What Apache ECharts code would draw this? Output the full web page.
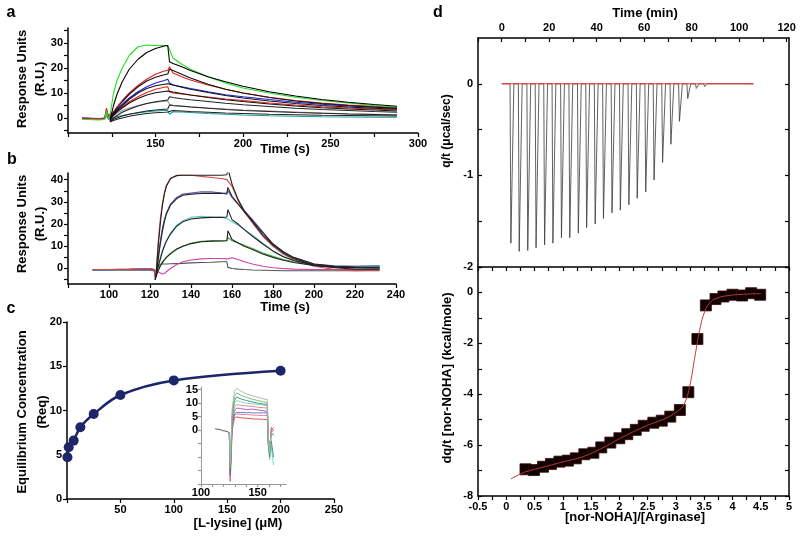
<!DOCTYPE html>
<html>
<head>
<meta charset="utf-8">
<script src="https://cdn.jsdelivr.net/npm/echarts@6/dist/echarts.min.js"></script>
<style>
  html, body { margin: 0; padding: 0; background: #fff; }
  #main { width: 800px; height: 541px; }
</style>
</head>
<body>
<div id="main"></div>
<script>
// ---- panel a: SPR sensorgrams (time in s, response in R.U.) ----
const aTime = [108, 118, 121, 122, 123, 124, 126, 128, 131, 135, 140, 145, 150, 155, 157, 158, 160, 165, 170, 180, 190, 200, 215, 230, 245, 260, 275, 288];
const aGreen = [-0.5, -0.8, -0.5, 3, 0, 1, 10, 15, 20, 25, 28.5, 29.2, 29, 29, 29, 29.5, 24, 21.5, 19.5, 16.5, 14, 12, 10, 8.3, 7, 6, 5, 4.3];
const aFitGreen = [null, null, null, null, null, -1, 5, 9.5, 14.5, 19.5, 23.5, 26.2, 27.8, 28.8, 29, 22.5, 21.8, 20.5, 19, 16.5, 14.5, 12.7, 10.5, 8.8, 7.4, 6.3, 5.4, 4.7];
const aRed1 = [0, -0.3, 0, 4, 1, 0.5, 2.5, 4.5, 7, 10, 13, 15.5, 17.5, 18.8, 19, 20.5, 18, 16.5, 15.2, 13.2, 11.5, 10, 8.3, 7, 6, 5.2, 4.7, 4.2];
const aFitRed1 = [null, null, null, null, null, -0.5, 2, 4, 6.5, 9.5, 12.5, 14.8, 16.3, 17.3, 17.6, 19.5, 19, 17.5, 16, 13.5, 11.5, 10, 8.2, 6.8, 5.8, 5, 4.4, 3.9];
const aBlue = [0, -0.2, 0, 3.5, 0.5, 0.5, 2, 3.5, 5.5, 8, 10.5, 12.5, 14, 15, 15.5, 14, 13.2, 12.5, 11.8, 10.5, 9.3, 8.5, 7.4, 6.3, 5.5, 4.8, 4.3, 3.8];
const aFitBlue = [null, null, null, null, null, -0.5, 1.5, 3, 5, 7.5, 10, 11.8, 12.9, 13.5, 13.7, 13.5, 13.2, 12.3, 11.5, 10.2, 9, 8, 6.8, 5.8, 5, 4.4, 3.9, 3.5];
const aRed2 = [0, -0.4, -0.2, 3, 0, 0, 1.5, 3, 4.5, 6.5, 8.5, 10.2, 11.5, 12.3, 12.5, 10.5, 10, 9.6, 9.2, 8.4, 7.6, 7, 6, 5.2, 4.5, 4, 3.6, 3.2];
const aFitRed2 = [null, null, null, null, null, -1, 1, 2.5, 4, 6, 7.8, 9.2, 10.1, 10.6, 10.8, 10.8, 10.4, 9.8, 9.2, 8.2, 7.3, 6.6, 5.6, 4.8, 4.1, 3.6, 3.2, 2.8];
const aGray = [-0.2, -0.5, -0.3, 2, 0, 0, 1, 2, 3, 4, 5, 5.8, 6.3, 6.7, 6.8, 5.5, 5, 4.8, 4.5, 4, 3.6, 3.2, 2.8, 2.4, 2, 1.7, 1.5, 1.3];
const aFit4 = [null, null, null, null, null, -1.5, 0, 1, 2.3, 3.5, 4.8, 5.8, 6.5, 7, 7.2, 8.5, 8.2, 7.7, 7.3, 6.6, 5.9, 5.3, 4.6, 3.9, 3.4, 3, 2.6, 2.3];
const aFit5 = [null, null, null, null, null, -1.5, -0.5, 0, 0.8, 1.5, 2.2, 2.8, 3.2, 3.5, 3.6, 5.2, 5, 4.7, 4.4, 3.9, 3.4, 3, 2.6, 2.2, 1.9, 1.6, 1.4, 1.2];
const aTeal = [-0.3, -0.5, -0.3, 1, -0.5, -0.5, 0, 0.5, 1, 1.5, 2, 2.5, 2.8, 3, 3, 1.5, 2.5, 2.4, 2.2, 1.8, 1.5, 1.2, 0.9, 0.7, 0.5, 0.4, 0.3, 0.3];
const aFit6 = [null, null, null, null, null, -1.5, -1, -0.5, 0, 0.7, 1.3, 1.8, 2.1, 2.3, 2.4, 3, 3, 2.8, 2.6, 2.3, 2, 1.8, 1.5, 1.3, 1.1, 1, 0.9, 0.8];
const aXLabels = [150, 200, 250, 300];
const aXTicks = [100, 125, 150, 175, 200, 225, 250, 275, 300];
const aYLabels = [0, 10, 20, 30];
const aYTicks = [-5, 0, 5, 10, 15, 20, 25, 30, 35];

// ---- panel b ----
const bTime = [92, 100, 110, 120, 122, 122.5, 123, 124, 125, 126, 127, 128, 130, 133, 136, 140, 145, 150, 155, 157.5, 158, 160, 163, 166, 170, 175, 180, 185, 190, 200, 210, 220, 232];
const bRed = [-0.5, -0.5, -0.3, 0, -0.5, -4, -2, 12, 22, 29, 34, 37.5, 40.5, 42, 42, 42, 41.5, 41, 40.5, 40, 40, 37, 30.5, 25.5, 20.5, 14.5, 10, 6.5, 4, 1, -0.5, -1, -0.8];
const bFitRed = [null, null, null, null, null, -5, -3, 10, 20, 28, 33.5, 37, 40.5, 41.8, 42, 42, 42, 42, 42, 42.2, 45, 38, 31, 26, 21, 15, 10.5, 7, 4.5, 1.5, 0.3, -0.3, -0.3];
const bBlue = [-0.8, -0.7, -0.5, -0.3, -0.5, -4, -2, 5, 12, 18, 22, 25, 29, 32, 33.5, 34, 34.5, 34.5, 34, 33.5, 35, 32, 29, 26, 22, 16.5, 11, 7.5, 5, 2, 1.2, 1, 1.2];
const bFitBlue = [null, null, null, null, null, -5, -3, 4, 11, 16.5, 21, 24.5, 28.5, 31.5, 33, 33.5, 33.8, 33.8, 33.8, 34, 36.5, 32.5, 29, 25.5, 21.5, 16, 11, 7.5, 5, 2, 1, 0.6, 0.5];
const bCyan = [-0.8, -0.7, -0.5, -0.3, -0.5, -3.5, -1.5, 2, 5, 8, 10.5, 12.5, 16, 19.5, 21.5, 23, 23.5, 23.2, 23, 22.5, 22, 21, 19.5, 17.5, 15, 11.5, 8, 5.5, 3.8, 1.8, 1, 1, 1.2];
const bFitCyan = [null, null, null, null, null, -5, -3, 1, 4, 7.5, 10, 12.3, 15.5, 19, 21, 22.3, 22.8, 23, 23, 23.2, 26.5, 22, 20, 17.5, 14.5, 11, 7.8, 5.3, 3.6, 1.5, 0.7, 0.4, 0.3];
const bGreen = [-0.8, -0.7, -0.5, -0.3, -0.5, -3, -2, 0, 1.5, 3, 4, 5, 6.5, 8.5, 10, 11.3, 12.2, 12.5, 12.5, 12.5, 14, 12.5, 11.5, 10.5, 9, 7, 5.5, 4, 3, 1.5, 0.8, 0.5, 0.8];
const bFitGreen = [null, null, null, null, null, -5, -3.5, -1, 1, 2.5, 3.8, 5, 6.8, 8.8, 10, 11.2, 12, 12.3, 12.4, 12.5, 17, 13, 11.5, 10, 8.5, 6.5, 5, 3.7, 2.7, 1.3, 0.6, 0.3, 0.2];
const bMagenta = [-0.5, -0.5, -0.3, 0, -0.5, -2, -1, -1.5, -2, -2.5, -2.3, -1.5, 0, 1.8, 3, 3.8, 4.3, 4.5, 4.5, 4.3, 5, 4.8, 4, 3, 2, 1, 0.3, 0, -0.3, -0.5, -0.5, -0.5, -0.5];
const bGrayLow = [-0.8, -0.8, -0.8, -0.8, -1, -2, -0.5, 1, 1.8, 2, 2, 2, 2.1, 2.2, 2.3, 2.5, 2.7, 2.8, 3, 3, 0.5, 0, -0.3, -0.5, -0.7, -0.8, -0.9, -1, -1, -1, -1, -1, -1];
const bXLabels = [100, 120, 140, 160, 180, 200, 220, 240];
const bXTicks = [80, 100, 120, 140, 160, 180, 200, 220, 240];
const bYLabels = [0, 10, 20, 30, 40];
const bYTicks = [-5, 0, 5, 10, 15, 20, 25, 30, 35, 40];

// ---- panel c: equilibrium response vs L-lysine ----
const lysine = [0.4, 1.6, 6.25, 12.5, 25, 50, 100, 200];
const req = [4.72, 5.85, 6.6, 8.1, 9.6, 11.75, 13.4, 14.5];
const cXLabels = [50, 100, 150, 200, 250];
const cXTicks = [0, 50, 100, 150, 200, 250];
const cYLabels = [0, 5, 10, 15, 20];

// ---- panel c inset ----
const insBaseTime = [112.5, 115, 117, 119, 121, 123, 125];
const insBase = [0.5, 0.3, 0.2, -0.2, -0.3, -0.5, -1];
const insTime = [125, 125.8, 127.5, 129.5, 131.5, 135, 140, 145, 150, 155, 158.5, 159.5, 160.5, 162, 164];
const insGray = [-1, -12, 8, 14.5, 15.5, 14.5, 13.5, 12.8, 12.2, 11.6, 11.3, -4, -8, -1, 0];
const insGreen = [-1, -14, 6, 12.5, 13.8, 13, 12.2, 11.5, 11, 10.5, 10.2, -5, -9, -2, -1];
const insCyan = [-1, -13, 5, 10, 11, 10.5, 10, 9.8, 9.5, 9.3, 9, -4, -11, -6, -13];
const insTeal = [-1, -16, 5, 11, 12.3, 11.6, 11, 10.5, 10, 9.7, 9.5, -6, -10, -4, -10];
const insSalmon = [-1, -15, 4, 8.5, 9.5, 9.2, 9, 8.8, 8.5, 8.3, 8.2, -5, -7, 0, 1];
const insPurple = [-1, -17, 3, 7.2, 8.2, 8, 7.6, 7.8, 7.5, 7.2, 7, -6, -8, 1, 0];
const insBlue = [-1, -15, 2, 6, 6.6, 6.5, 6.5, 6.4, 6.4, 6.4, 6.4, -5, -6, -1, -2];
const insPink = [-1, -18, 1, 5.5, 6, 5.8, 5.8, 5.6, 5.5, 5.4, 5.4, -6, -8, 0, 1];
const insRed = [-1, -19, 0, 4.5, 4.9, 4.6, 4.4, 4.2, 4.1, 4, 3.9, -5, -7, -1, 0];
const insXLabels = [100, 150];
const insXTicks = [100, 110, 120, 130, 140, 150, 160, 170];
const insYLabels = [0, 5, 10, 15];
const insYTicks = [-20, -15, -10, -5, 0, 5, 10, 15];

// ---- panel d: ITC raw heats ----
const itcRange = [0, 106];
const injTime = [3.5, 7, 10.6, 14.1, 17.7, 21.2, 24.8, 28.3, 31.9, 35.4, 39, 42.5, 46.1, 49.6, 53.2, 56.7, 60.3, 63.8, 67.4, 70.9, 74.5, 78, 81.6, 85.1, 88.7, 92.2, 95.8, 99.3];
const injPeak = [-1.74, -1.83, -1.82, -1.79, -1.76, -1.74, -1.68, -1.68, -1.63, -1.57, -1.53, -1.47, -1.41, -1.38, -1.32, -1.25, -1.18, -1.05, -0.86, -0.66, -0.41, -0.16, -0.05, -0.03, -0.02, -0.02, -0.02, -0.02];
const dTopXLabels = [0, 20, 40, 60, 80, 100, 120];
const dTopXTicks = [-10, 0, 10, 20, 30, 40, 50, 60, 70, 80, 90, 100, 110, 120];
const dTopYLabels = [-2, -1, 0];
const dTopYTicks = [-2, -1.5, -1, -0.5, 0];

// ---- panel d: binding isotherm ----
const molarRatio = [0.34, 0.49, 0.65, 0.79, 0.94, 1.09, 1.23, 1.38, 1.54, 1.68, 1.84, 2.0, 2.14, 2.29, 2.43, 2.6, 2.75, 2.9, 3.07, 3.22, 3.38, 3.53, 3.7, 3.84, 4.0, 4.17, 4.33, 4.49];
const heat = [-6.95, -6.98, -6.85, -6.74, -6.65, -6.61, -6.52, -6.36, -6.3, -6.09, -5.9, -5.73, -5.57, -5.4, -5.24, -5.12, -5.04, -4.88, -4.62, -3.92, -1.83, -0.51, -0.26, -0.16, -0.09, -0.12, -0.03, -0.09];
const fitRatio = [0.08, 0.3, 0.5, 0.8, 1.0, 1.3, 1.5, 1.8, 2.0, 2.3, 2.5, 2.8, 3.0, 3.12, 3.2, 3.27, 3.33, 3.4, 3.47, 3.55, 3.65, 3.8, 4.0, 4.3, 4.5];
const fitHeat = [-7.33, -7.08, -6.95, -6.78, -6.66, -6.5, -6.33, -6.0, -5.75, -5.42, -5.22, -4.97, -4.72, -4.5, -4.1, -3.4, -2.6, -1.7, -1.0, -0.55, -0.3, -0.17, -0.1, -0.06, -0.05];
const dBotXLabels = [-0.5, 0, 0.5, 1, 1.5, 2, 2.5, 3, 3.5, 4, 4.5, 5];
const dBotXTicks = [-0.5, -0.25, 0, 0.25, 0.5, 0.75, 1, 1.25, 1.5, 1.75, 2, 2.25, 2.5, 2.75, 3, 3.25, 3.5, 3.75, 4, 4.25, 4.5, 4.75, 5];
const dBotYLabels = [-8, -6, -4, -2, 0];
const dBotYTicks = [-8, -7, -6, -5, -4, -3, -2, -1, 0, 1];

const FONT = "Liberation Sans";

function pairs(xs, ys) {
  return xs.map((x, i) => (ys[i] === null ? null : [x, ys[i]])).filter((p) => p);
}

function valueAxis(gridIndex, min, max, labels, ticks, extra) {
  const e = extra || {};
  const color = e.lineColor || "#000";
  return {
    type: "value",
    gridIndex: gridIndex,
    min: min,
    max: max,
    position: e.position,
    splitLine: { show: false },
    axisLine: { show: true, onZero: false, lineStyle: { color: color, width: e.lineWidth || 1.5 } },
    axisTick: {
      show: true,
      inside: !!e.inside,
      length: e.tickLen || 4,
      customValues: ticks,
      lineStyle: { color: color, width: 1.2 },
    },
    axisLabel: {
      show: labels.length > 0,
      customValues: labels.length > 0 ? labels : undefined,
      color: "#000",
      fontFamily: FONT,
      fontWeight: "bold",
      fontSize: e.fontSize || 11,
      margin: e.margin || 5,
    },
  };
}

function line(xs, ys, xi, yi, color, width) {
  return {
    type: "line",
    xAxisIndex: xi,
    yAxisIndex: yi,
    data: pairs(xs, ys),
    showSymbol: false,
    symbol: "none",
    silent: true,
    lineStyle: { color: color, width: width || 1.1 },
  };
}

// ITC trace: baseline with one sharp dip per injection
const itcTrace = [[itcRange[0], 0]];
injTime.forEach((t, i) => {
  itcTrace.push([t, 0], [t + 0.35, injPeak[i]], [t + 1.6, 0]);
});
itcTrace.push([itcRange[1], 0]);

function text(x, y, str, size, rotate, lineHeight) {
  return {
    type: "text",
    x: x,
    y: y,
    rotation: rotate ? Math.PI / 2 : 0,
    style: {
      text: str,
      fill: "#000",
      font: "bold " + size + "px '" + FONT + "'",
      fontFamily: FONT,
      fontWeight: "bold",
      fontSize: size,
      lineHeight: lineHeight || size + 4,
      align: "center",
      verticalAlign: "middle",
      textAlign: "center",
      textVerticalAlign: "middle",
    },
  };
}

const option = {
  animation: false,
  backgroundColor: "#fff",
  textStyle: { fontFamily: FONT },
  grid: [
    { left: 68, top: 28, width: 350, height: 105 },
    { left: 68, top: 173, width: 328, height: 111 },
    { left: 67, top: 322, width: 267, height: 177 },
    { left: 201, top: 387, width: 85, height: 97 },
    { left: 478, top: 38, width: 311, height: 229 },
    { left: 478, top: 267, width: 311, height: 229 },
  ],
  xAxis: [
    valueAxis(0, 100, 300, aXLabels, aXTicks),
    valueAxis(1, 80, 240, bXLabels, bXTicks),
    valueAxis(2, 0, 250, cXLabels, cXTicks),
    valueAxis(3, 100, 175, insXLabels, insXTicks, { lineColor: "#999", lineWidth: 1, tickLen: 3, margin: 3 }),
    valueAxis(4, -10, 121, dTopXLabels, dTopXTicks, { position: "top", inside: true }),
    valueAxis(5, -0.5, 5, dBotXLabels, dBotXTicks),
    valueAxis(5, -0.5, 5, [], dBotXTicks, { position: "top", inside: true }),
  ],
  yAxis: [
    valueAxis(0, -6, 36, aYLabels, aYTicks),
    valueAxis(1, -7, 43, bYLabels, bYTicks),
    valueAxis(2, 0, 20, cYLabels, cYLabels),
    valueAxis(3, -20, 16, insYLabels, insYTicks, { lineColor: "#999", lineWidth: 1, tickLen: 3, margin: 3 }),
    valueAxis(4, -2, 0.5, dTopYLabels, dTopYTicks, { inside: true }),
    valueAxis(4, -2, 0.5, [], dTopYTicks, { position: "right", inside: true }),
    valueAxis(5, -8, 1, dBotYLabels, dBotYTicks, { inside: true }),
    valueAxis(5, -8, 1, [], dBotYTicks, { position: "right", inside: true }),
  ],
  series: [
    // a: measured traces, then fitted curves on top
    line(aTime, aTeal, 0, 0, "#1a9a9a"),
    line(aTime, aGray, 0, 0, "#999999"),
    line(aTime, aRed2, 0, 0, "#ee1c1c"),
    line(aTime, aBlue, 0, 0, "#1c1ce8"),
    line(aTime, aRed1, 0, 0, "#ee1c1c"),
    line(aTime, aGreen, 0, 0, "#22e022"),
    line(aTime, aFit6, 0, 0, "#222"),
    line(aTime, aFit5, 0, 0, "#222"),
    line(aTime, aFit4, 0, 0, "#222"),
    line(aTime, aFitRed2, 0, 0, "#111"),
    line(aTime, aFitBlue, 0, 0, "#111"),
    line(aTime, aFitRed1, 0, 0, "#111"),
    line(aTime, aFitGreen, 0, 0, "#000"),
    // b
    line(bTime, bGrayLow, 1, 1, "#555"),
    line(bTime, bMagenta, 1, 1, "#d040a8"),
    line(bTime, bGreen, 1, 1, "#3cb43c"),
    line(bTime, bCyan, 1, 1, "#5cc8d0"),
    line(bTime, bBlue, 1, 1, "#5a5ab4"),
    line(bTime, bRed, 1, 1, "#d04a4a"),
    line(bTime, bFitGreen, 1, 1, "#222"),
    line(bTime, bFitCyan, 1, 1, "#222"),
    line(bTime, bFitBlue, 1, 1, "#222"),
    line(bTime, bFitRed, 1, 1, "#222"),
    // c
    {
      type: "line",
      xAxisIndex: 2,
      yAxisIndex: 2,
      data: pairs(lysine, req),
      smooth: 0.35,
      symbol: "circle",
      symbolSize: 10,
      silent: true,
      lineStyle: { color: "#1c2668", width: 2.5 },
      itemStyle: { color: "#1c2668", opacity: 1 },
    },
    // c inset
    line(insBaseTime, insBase, 3, 3, "#555", 1),
    line(insTime, insRed, 3, 3, "#e04040", 0.9),
    line(insTime, insPink, 3, 3, "#f07090", 0.9),
    line(insTime, insBlue, 3, 3, "#5070d0", 0.9),
    line(insTime, insPurple, 3, 3, "#a848a8", 0.9),
    line(insTime, insSalmon, 3, 3, "#e08080", 0.9),
    line(insTime, insCyan, 3, 3, "#70d0c8", 0.9),
    line(insTime, insTeal, 3, 3, "#2f9070", 0.9),
    line(insTime, insGreen, 3, 3, "#6cc06c", 0.9),
    line(insTime, insGray, 3, 3, "#b0b0b0", 0.9),
    // d top
    {
      type: "line",
      xAxisIndex: 4,
      yAxisIndex: 4,
      data: itcTrace,
      showSymbol: false,
      symbol: "none",
      silent: true,
      lineStyle: { color: "#3a3a3a", width: 0.8 },
    },
    line(itcRange, [0, 0], 4, 4, "#ee3030", 1),
    // d bottom
    {
      type: "line",
      xAxisIndex: 5,
      yAxisIndex: 6,
      data: pairs(fitRatio, fitHeat),
      smooth: 0.2,
      showSymbol: false,
      symbol: "none",
      silent: true,
      lineStyle: { color: "#b83838", width: 1 },
    },
    {
      type: "scatter",
      xAxisIndex: 5,
      yAxisIndex: 6,
      data: pairs(molarRatio, heat),
      symbol: "rect",
      symbolSize: 11,
      silent: true,
      itemStyle: { color: "#0e0202", borderColor: "#3a0808", borderWidth: 0.8, opacity: 1 },
    },
  ],
  graphic: [
    text(11, 13, "a", 16),
    text(12, 160, "b", 16),
    text(11, 309, "c", 16),
    text(438, 13, "d", 16),
    text(31, 79, "Response Units\n(R.U.)", 13, true, 18),
    text(31, 224, "Response Units\n(R.U.)", 13, true, 18),
    text(32, 412, "Equilibrium Concentration\n(Req)", 13, true, 20),
    text(285, 149, "Time (s)", 13),
    text(285, 307, "Time (s)", 13),
    text(238, 523, "[L-lysine] (\u03bcM)", 13),
    text(645, 13, "Time (min)", 13),
    text(447, 131, "q/t (\u03bccal/sec)", 12, true),
    text(447, 378, "dq/t [nor-NOHA] (kcal/mole)", 13, true),
    text(635, 517, "[nor-NOHA]/[Arginase]", 13),
  ],
};

const chart = echarts.init(document.getElementById("main"), null, { renderer: "canvas" });
chart.setOption(option);
</script>
</body>
</html>
